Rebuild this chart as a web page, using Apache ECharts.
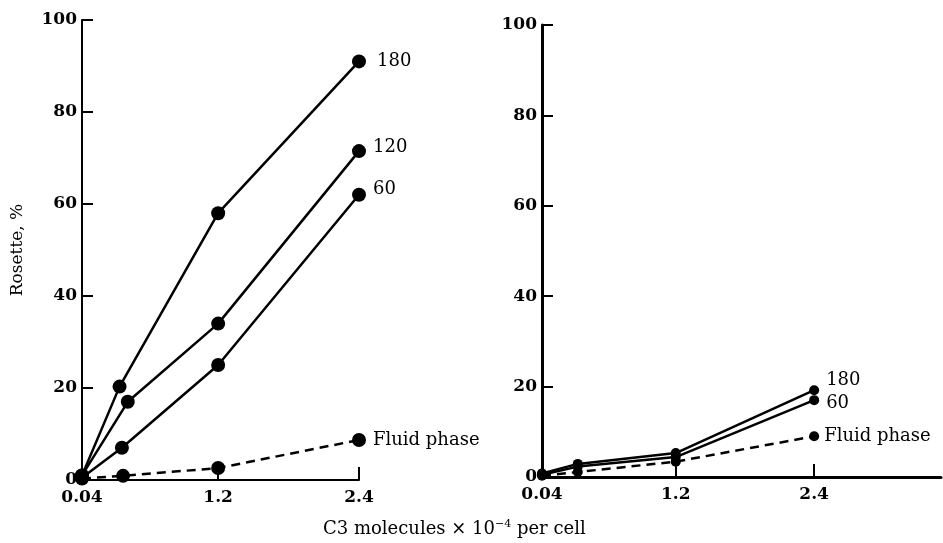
<!DOCTYPE html>
<html style="height: 100%">
<head>
<meta charset="utf-8">
<script src="https://cdn.jsdelivr.net/npm/echarts@6/dist/echarts.min.js"></script>
</head>
<body style="height: 100%; margin: 0; background: #fff">
<div id="container" style="width: 943px; height: 543px"></div>
<script type="text/javascript">
// tick labels
var xTicks = [0.04, 1.2, 2.4];
var yTicks = [0, 20, 40, 60, 80, 100];

// left panel: x positions and % rosettes
var leftX180 = [0.04, 0.36, 1.2, 2.4];
var left180 = [1, 20.3, 58, 91];
var leftX120 = [0.04, 0.43, 1.2, 2.4];
var left120 = [1, 17, 34, 71.5];
var leftX60 = [0.04, 0.38, 1.2, 2.4];
var left60 = [0.5, 7, 25, 62];
var leftXFluid = [0.04, 0.39, 1.2, 2.4];
var leftFluid = [0.3, 0.9, 2.6, 8.7];

// right panel
var rightX = [0.04, 0.35, 1.2, 2.4];
var right180 = [0.8, 2.9, 5.3, 19.2];
var right60 = [0.5, 2.3, 4.4, 17];
var rightFluid = [0.3, 1.1, 3.4, 9];

var font = 'DejaVu Serif';

function pairs(xs, ys) {
  return xs.map(function (x, i) { return [x, ys[i]]; });
}

function xAxisOf(idx, max) {
  return {
    type: 'value', gridIndex: idx, min: 0.04, max: max,
    axisLine: { lineStyle: { color: '#000', width: idx ? 3 : 2 } },
    axisTick: { show: true, inside: true, length: 13, customValues: xTicks, lineStyle: { color: '#000', width: 2 } },
    axisLabel: { customValues: xTicks, color: '#000', fontFamily: font, fontWeight: 'bold', fontSize: 17, margin: 9 },
    splitLine: { show: false }
  };
}

function yAxisOf(idx) {
  var ax = {
    type: 'value', gridIndex: idx, min: 0, max: 100, interval: 20,
    axisLine: { show: true, lineStyle: { color: '#000', width: idx ? 3 : 2 } },
    axisTick: { show: true, inside: true, length: 11, lineStyle: { color: '#000', width: 2 } },
    axisLabel: { color: '#000', fontFamily: font, fontWeight: 'bold', fontSize: 17, margin: 5 },
    splitLine: { show: false }
  };
  if (idx === 0) {
    ax.name = 'Rosette, %';
    ax.nameLocation = 'middle';
    ax.nameGap = 56;
    ax.nameTextStyle = { color: '#000', fontFamily: font, fontSize: 17 };
  }
  return ax;
}

function lineSeries(name, idx, data, dashed, size, offset) {
  return {
    name: name, type: 'line', xAxisIndex: idx, yAxisIndex: idx,
    data: data, symbol: 'circle', symbolSize: size,
    itemStyle: { color: '#000' },
    lineStyle: { color: '#000', width: 2.5, type: dashed ? [9, 6] : 'solid' },
    endLabel: {
      show: true, formatter: name, color: '#000', fontFamily: font, fontSize: 18,
      distance: 14, offset: offset || [0, 0]
    },
    animation: false, z: 3
  };
}

var myChart = echarts.init(document.getElementById('container'));
var option = {
  backgroundColor: '#fff',
  title: {
    text: '{a|C3 molecules × 10}{s|−4}{a| per cell}',
    left: 318, top: 514,
    textStyle: {
      rich: {
        a: { fontFamily: font, fontSize: 18, fontWeight: 'normal', color: '#000' },
        s: { fontFamily: font, fontSize: 11, fontWeight: 'normal', color: '#000', verticalAlign: 'top', padding: [0, 0, 10, 0] }
      }
    }
  },
  grid: [
    { left: 82, top: 20, width: 277, height: 460 },
    { left: 542, top: 25, width: 399, height: 452 }
  ],
  xAxis: [xAxisOf(0, 2.4), xAxisOf(1, 3.5)],
  yAxis: [yAxisOf(0), yAxisOf(1)],
  series: [
    lineSeries('180', 0, pairs(leftX180, left180), false, 14, [4, 0]),
    lineSeries('120', 0, pairs(leftX120, left120), false, 14, [0, -4]),
    lineSeries('60', 0, pairs(leftX60, left60), false, 14, [0, -5]),
    lineSeries('Fluid phase', 0, pairs(leftXFluid, leftFluid), true, 14),
    lineSeries('180', 1, pairs(rightX, right180), false, 10, [-2, -10]),
    lineSeries('60', 1, pairs(rightX, right60), false, 10, [-2, 3]),
    lineSeries('Fluid phase', 1, pairs(rightX, rightFluid), true, 10, [-4, 0])
  ]
};
myChart.setOption(option);
</script>
</body>
</html>
